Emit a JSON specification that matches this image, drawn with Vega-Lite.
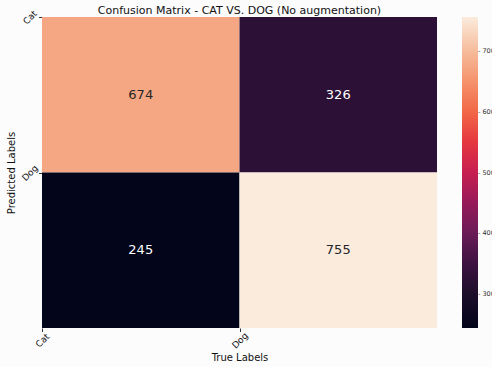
{
  "$schema": "https://vega.github.io/schema/vega-lite/v6.json",
  "width": 395,
  "height": 311,
  "autosize": {"type": "none"},
  "padding": {"left": 42, "top": 17, "right": 55, "bottom": 39},
  "background": "#fcfcfd",
  "config": {
    "font": "DejaVu Sans",
    "view": {"stroke": null},
    "title": {"font": "DejaVu Sans", "fontWeight": "normal", "fontSize": 11, "color": "#111"},
    "axis": {
      "titleFontWeight": "normal", "titleFontSize": 10, "titleColor": "#111",
      "domain": false, "tickSize": 3.5, "tickColor": "#333",
      "labelAngle": -45, "labelAlign": "center", "labelBaseline": "middle",
      "labelFontSize": 9, "labelColor": "#111", "labelOverlap": false
    }
  },
  "title": {"text": "Confusion Matrix - CAT VS. DOG (No augmentation)", "anchor": "middle", "frame": "group", "offset": -7},
  "data": {
    "values": [
      {"true": "Cat", "pred": "Cat", "count": 674},
      {"true": "Dog", "pred": "Cat", "count": 326},
      {"true": "Cat", "pred": "Dog", "count": 245},
      {"true": "Dog", "pred": "Dog", "count": 755}
    ]
  },
  "layer": [
    {
      "layer": [
        {
          "mark": {"type": "rect"},
          "encoding": {
            "color": {
              "field": "count", "type": "quantitative",
              "scale": {
                "domain": [245, 755],
                "range": ["#03051a", "#1a0e28", "#3a1240", "#681c56", "#951a59", "#c71e51", "#e6383f", "#f26a47", "#f5966f", "#f6bfa0", "#faebdd"],
                "interpolate": "rgb"
              },
              "legend": {
                "title": null, "orient": "none", "legendX": 420, "legendY": 0,
                "direction": "vertical", "gradientLength": 311, "gradientThickness": 16,
                "gradientStrokeWidth": 0, "values": [300, 400, 500, 600, 700],
                "labelFontSize": 6.5, "labelColor": "#333", "labelOffset": 0,
                "labelExpr": "'- ' + datum.label"
              }
            }
          }
        },
        {
          "mark": {"type": "text", "fontSize": 13},
          "encoding": {
            "text": {"field": "count", "type": "quantitative"},
            "color": {
              "condition": {"test": "datum.count > 500", "value": "#262626"},
              "value": "#ffffff"
            }
          }
        }
      ],
      "encoding": {
        "x": {"field": "true", "type": "nominal", "sort": ["Cat", "Dog"], "scale": {"paddingInner": 0, "paddingOuter": 0}, "axis": null},
        "y": {"field": "pred", "type": "nominal", "sort": ["Cat", "Dog"], "scale": {"paddingInner": 0, "paddingOuter": 0}, "axis": null}
      }
    },
    {
      "mark": {"type": "point", "opacity": 0},
      "encoding": {
        "x": {
          "field": "true", "type": "nominal", "sort": ["Cat", "Dog"],
          "scale": {"type": "point", "padding": 0.5, "align": 0},
          "axis": {"orient": "bottom", "title": "True Labels", "titleY": 32, "titleBaseline": "alphabetic", "labelPadding": 8.5}
        },
        "y": {
          "field": "pred", "type": "nominal", "sort": ["Cat", "Dog"],
          "scale": {"type": "point", "padding": 0.5, "align": 0},
          "axis": {"orient": "left", "title": "Predicted Labels", "titleX": -28, "titleBaseline": "alphabetic", "labelPadding": 9}
        }
      }
    }
  ],
  "resolve": {"scale": {"x": "independent", "y": "independent"}}
}
